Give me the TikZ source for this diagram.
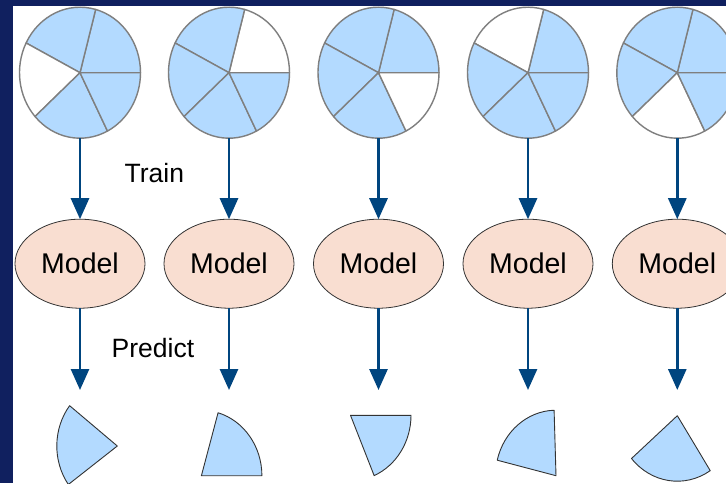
\documentclass[tikz,border=0pt]{standalone}
\usepackage{fontspec}
\setmainfont{Liberation Sans}
\usetikzlibrary{arrows.meta,shapes.geometric}

\definecolor{framenavy}{HTML}{10205F}
\definecolor{sliceblue}{HTML}{B3DAFF}
\definecolor{modelpeach}{HTML}{F9DED1}
\definecolor{arrowblue}{HTML}{00457F}
\definecolor{pieedge}{HTML}{7F7F7F}
\definecolor{shapeedge}{HTML}{333333}

\tikzset{
  pieline/.style={draw=pieedge, line width=1.4pt, line join=round},
  piebox/.style={shape=ellipse, minimum width=121pt, minimum height=131pt, inner sep=0pt, outer sep=0pt},
  modelbox/.style={shape=ellipse, draw=shapeedge, line width=0.8pt, fill=modelpeach,
    minimum width=130pt, minimum height=89pt, inner sep=0pt, outer sep=0pt,
    font=\fontsize{28.5}{30}\selectfont},
  flowarrow/.style={draw=arrowblue, line width=2.8pt,
    -{Triangle[width=18pt,length=21pt]}},
  steplabel/.style={anchor=base west, inner sep=0pt, font=\fontsize{26.5}{28}\selectfont},
  heldout/.style={draw=shapeedge, line width=0.9pt, fill=sliceblue, line join=round}
}

% one wedge of a pie: center, start angle, end angle, fill colour
\newcommand\pieslice[4]{%
  \filldraw[pieline, fill=#4] (#1) -- ++(#2:60.5 and 65.5)
    arc[start angle=#2, end angle=#3, x radius=60.5, y radius=65.5] -- cycle;}

% a pie of five wedges, the one numbered #3 left blank
\newcommand\foldpie[3]{%
  \node[piebox] (#1) at (#2) {};
  \foreach \a/\b [count=\k] in {0/75,75/153,153/222,222/297,297/360}{
    \ifnum\k=#3 \pieslice{#1.center}{\a}{\b}{white}%
    \else \pieslice{#1.center}{\a}{\b}{sliceblue}\fi}}

% a single held-out wedge: apex, start angle, end angle
\newcommand\heldwedge[3]{%
  \filldraw[heldout] (#1) -- ++(#2:60.5 and 65.5)
    arc[start angle=#2, end angle=#3, x radius=60.5, y radius=65.5] -- cycle;}

\begin{document}
\begin{tikzpicture}[x=1pt, y=1pt]
  \useasboundingbox (0,0) rectangle (726,-483);
  \clip (0,0) rectangle (726,-483);
  \fill[framenavy] (0,0) rectangle (726,-483);
  \fill[white] (13,-6) rectangle (726,-483);

  % folds of the data
  \foldpie{pie1}{80,-72.7}{3}
  \foldpie{pie2}{229,-72.7}{1}
  \foldpie{pie3}{378.5,-72.7}{5}
  \foldpie{pie4}{528,-72.7}{2}
  \foldpie{pie5}{677.3,-72.7}{4}

  % models
  \node[modelbox] (model1) at (80,-263.7) {Model};
  \node[modelbox] (model2) at (229,-263.7) {Model};
  \node[modelbox] (model3) at (378.5,-263.7) {Model};
  \node[modelbox] (model4) at (528,-263.7) {Model};
  \node[modelbox] (model5) at (677.3,-263.7) {Model};

  % arrow ends above the predicted wedges
  \coordinate (tip1) at (80,-390);
  \coordinate (tip2) at (229,-390);
  \coordinate (tip3) at (378.5,-390);
  \coordinate (tip4) at (528,-390);
  \coordinate (tip5) at (677.3,-390);

  \foreach \i in {1,...,5}{
    \draw[flowarrow] (pie\i.south) -- (model\i.north);
    \draw[flowarrow] (model\i.south) -- (tip\i);
  }

  \node[steplabel] (train) at (124.4,-182) {Train};
  \node[steplabel] (predict) at (111.5,-357) {Predict};

  % held-out wedges
  \coordinate (apex1) at (117.3,-446);
  \coordinate (apex2) at (201.4,-475.7);
  \coordinate (apex3) at (350.5,-415.3);
  \coordinate (apex4) at (556,-475.7);
  \coordinate (apex5) at (677.3,-415.7);
  \heldwedge{apex1}{142}{216}
  \heldwedge{apex2}{0}{74}
  \heldwedge{apex3}{-67}{0}
  \heldwedge{apex4}{91.8}{166.3}
  \heldwedge{apex5}{220.8}{303}
\end{tikzpicture}
\end{document}
